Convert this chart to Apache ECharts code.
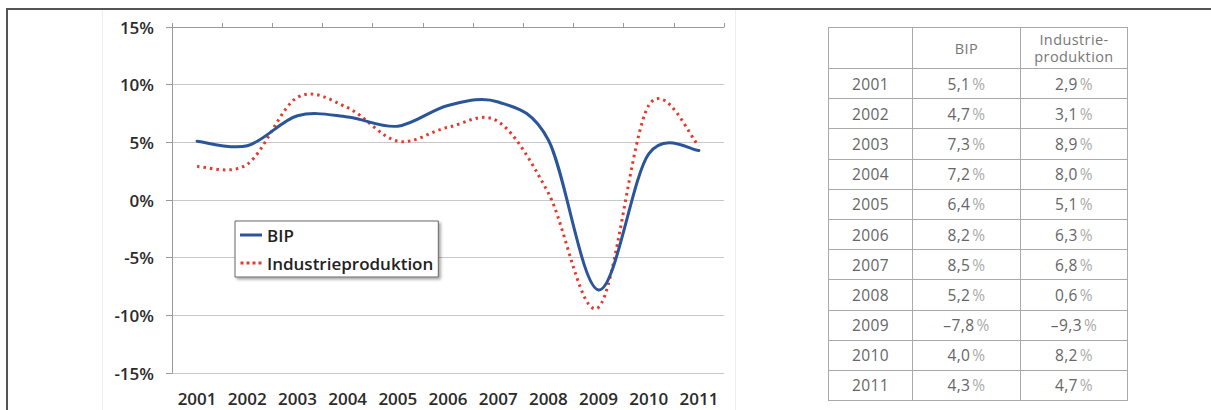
<!DOCTYPE html>
<html lang="de">
<head>
<meta charset="utf-8">
<title>BIP und Industrieproduktion</title>
<script src="https://cdn.jsdelivr.net/npm/echarts@6/dist/echarts.min.js"></script>
<style>
  html, body { margin: 0; padding: 0; background: #fff; }
  #wrap { position: relative; width: 1211px; height: 410px; overflow: hidden; }
  #chart { position: absolute; left: 0; top: 0; width: 1211px; height: 410px; }
  .frame-top { position: absolute; left: 6px; top: 8px; width: 1205px; height: 2px; background: #555; }
  .frame-left { position: absolute; left: 6px; top: 8px; width: 2px; height: 402px; background: #555; }
  .area-edge { position: absolute; top: 10px; width: 1px; height: 400px; background: #eeeeee; }
  #table {
    position: absolute; left: 828px; top: 27px;
    border-collapse: collapse;
    font-family: "Open Sans", "Noto Sans", sans-serif; font-weight: 400;
    font-size: 15.5px; color: #666; letter-spacing: 0.4px;
  }
  #table td, #table th {
    border: 1px solid #a9a9a9; text-align: center; padding: 0; font-weight: 400;
  }
  #table th { height: 40px; line-height: 17px; color: #777; font-size: 14.5px; }
  #table td { height: 29.2px; }
  #table .pct { color: #aaa; margin-left: 2px; }
</style>
</head>
<body>
<div id="wrap">
  <div class="frame-top"></div>
  <div class="frame-left"></div>
  <div class="area-edge" style="left:102px"></div>
  <div class="area-edge" style="left:735px"></div>
  <div id="chart"></div>
  <table id="table"></table>
</div>
<script>
// Jahresveränderung in Prozent
const years = ['2001', '2002', '2003', '2004', '2005', '2006', '2007', '2008', '2009', '2010', '2011'];
const bip = [5.1, 4.7, 7.3, 7.2, 6.4, 8.2, 8.5, 5.2, -7.8, 4.0, 4.3];
const industrie = [2.9, 3.1, 8.9, 8.0, 5.1, 6.3, 6.8, 0.6, -9.3, 8.2, 4.7];
const seriesNames = ['BIP', 'Industrieproduktion'];
const tableHeads = ['', 'BIP', 'Industrie-<br>produktion'];
const yMin = -15, yMax = 15, yStep = 5;

const blue = '#2a5598';
const red = '#e5392b';

// Werte-Tabelle rechts neben dem Diagramm
function fmt(v) {
  const s = Math.abs(v).toFixed(1).replace('.', ',');
  return (v < 0 ? '\u2013' : '') + s + '<span class="pct">%</span>';
}
const colW = [84, 108, 107];
let html = '<tr>' + tableHeads.map((h, i) => '<th style="width:' + (colW[i] - 1) + 'px">' + h + '</th>').join('') + '</tr>';
years.forEach((y, i) => {
  html += '<tr><td>' + y + '</td><td>' + fmt(bip[i]) + '</td><td>' + fmt(industrie[i]) + '</td></tr>';
});
document.getElementById('table').innerHTML = html;

// Geglättete Kurve (Catmull-Rom als Bézier) durch die Achsenkoordinaten der Werte
function smoothRenderer(values, strokeStyle) {
  return function (params, api) {
    if (params.dataIndex !== 0) return null;
    const p = values.map((v, i) => api.coord([i, v]));
    let d = 'M' + p[0][0] + ' ' + p[0][1];
    for (let i = 0; i < p.length - 1; i++) {
      const p0 = p[Math.max(i - 1, 0)], p1 = p[i], p2 = p[i + 1], p3 = p[Math.min(i + 2, p.length - 1)];
      const c1x = p1[0] + (p2[0] - p0[0]) / 6, c1y = p1[1] + (p2[1] - p0[1]) / 6;
      const c2x = p2[0] - (p3[0] - p1[0]) / 6, c2y = p2[1] - (p3[1] - p1[1]) / 6;
      d += ' C' + c1x + ' ' + c1y + ' ' + c2x + ' ' + c2y + ' ' + p2[0] + ' ' + p2[1];
    }
    return {
      type: 'path',
      shape: { pathData: d },
      style: Object.assign({ fill: 'none', lineWidth: 3 }, strokeStyle)
    };
  };
}

const axisFont = { fontFamily: '"Open Sans", "Liberation Sans", sans-serif', fontWeight: 600, fontSize: 17, color: '#2b2b2b' };

const chart = echarts.init(document.getElementById('chart'), null, { renderer: 'svg' });
chart.setOption({
  animation: false,
  grid: { left: 172, right: 487, top: 27, bottom: 37 },
  legend: {
    data: [
      { name: seriesNames[0], icon: 'path://M0 0H22V3H0Z' },
      { name: seriesNames[1], icon: 'path://M0 0H3V3H0Z M6 0H9V3H6Z M12 0H15V3H12Z M18 0H21V3H18Z' }
    ],
    orient: 'vertical',
    left: 235, top: 221,
    padding: [4, 5, 4, 5],
    itemGap: 8,
    itemWidth: 22,
    itemHeight: 3,
    backgroundColor: '#fff',
    borderColor: '#666', borderWidth: 1,
    shadowColor: 'rgba(0,0,0,0.35)', shadowBlur: 3, shadowOffsetX: 2, shadowOffsetY: 2,
    textStyle: Object.assign({}, axisFont, { color: '#222', lineHeight: 20 })
  },
  xAxis: [
    {
      type: 'category', data: years, boundaryGap: true,
      axisLine: { show: false }, axisTick: { show: false },
      axisLabel: Object.assign({ margin: 17, interval: 0 }, axisFont),
      splitLine: { show: false }
    },
    {
      type: 'category', data: years, boundaryGap: true,
      axisLine: { show: true, onZero: true, lineStyle: { color: '#999', width: 1 } },
      axisTick: { show: true, length: 4, inside: false, interval: 0, lineStyle: { color: '#999' } },
      axisLabel: { show: false },
      splitLine: { show: false }
    }
  ],
  yAxis: {
    type: 'value', min: yMin, max: yMax, interval: yStep,
    axisLine: { show: true, lineStyle: { color: '#999', width: 1 } },
    axisTick: { show: true, length: 6, lineStyle: { color: '#999' } },
    axisLabel: Object.assign({ margin: 18, formatter: v => v + '%' }, axisFont),
    splitLine: { show: true, lineStyle: { color: '#c8c8c8', width: 1 } }
  },
  series: [
    {
      name: seriesNames[0], type: 'custom', xAxisIndex: 1,
      data: years.map((y, i) => [i, bip[i]]),
      encode: { x: 0, y: 1 },
      itemStyle: { color: blue },
      renderItem: smoothRenderer(bip, { stroke: blue, lineCap: 'round' }),
      z: 3
    },
    {
      name: seriesNames[1], type: 'custom', xAxisIndex: 1,
      data: years.map((y, i) => [i, industrie[i]]),
      encode: { x: 0, y: 1 },
      itemStyle: { color: red },
      renderItem: smoothRenderer(industrie, { stroke: red, lineDash: [2.5, 4], lineCap: 'butt' }),
      z: 2
    }
  ]
});
</script>
</body>
</html>
